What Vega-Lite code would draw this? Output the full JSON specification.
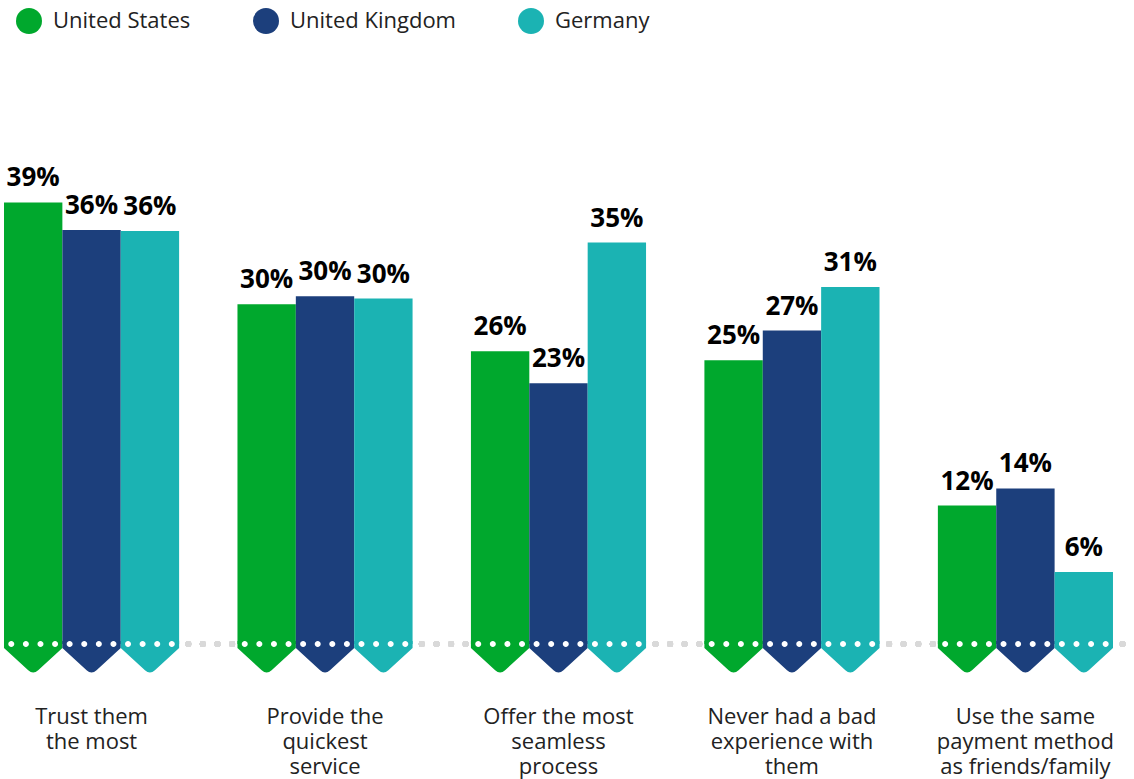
{
  "$schema": "https://vega.github.io/schema/vega-lite/v6.json",
  "width": 1134,
  "height": 644,
  "autosize": "none",
  "padding": {"left": 0, "top": 0, "right": 0, "bottom": 135},
  "background": "white",
  "config": {
    "view": {"stroke": null},
    "font": "Open Sans"
  },
  "data": {
    "values": [
      {"cat": "Trust them\nthe most", "country": "United States", "value": 0.386},
      {"cat": "Trust them\nthe most", "country": "United Kingdom", "value": 0.362},
      {"cat": "Trust them\nthe most", "country": "Germany", "value": 0.361},
      {"cat": "Provide the\nquickest\nservice", "country": "United States", "value": 0.297},
      {"cat": "Provide the\nquickest\nservice", "country": "United Kingdom", "value": 0.304},
      {"cat": "Provide the\nquickest\nservice", "country": "Germany", "value": 0.302},
      {"cat": "Offer the most\nseamless\nprocess", "country": "United States", "value": 0.256},
      {"cat": "Offer the most\nseamless\nprocess", "country": "United Kingdom", "value": 0.228},
      {"cat": "Offer the most\nseamless\nprocess", "country": "Germany", "value": 0.351},
      {"cat": "Never had a bad\nexperience with\nthem", "country": "United States", "value": 0.248},
      {"cat": "Never had a bad\nexperience with\nthem", "country": "United Kingdom", "value": 0.274},
      {"cat": "Never had a bad\nexperience with\nthem", "country": "Germany", "value": 0.312},
      {"cat": "Use the same\npayment method\nas friends/family", "country": "United States", "value": 0.121},
      {"cat": "Use the same\npayment method\nas friends/family", "country": "United Kingdom", "value": 0.136},
      {"cat": "Use the same\npayment method\nas friends/family", "country": "Germany", "value": 0.063}
    ]
  },
  "layer": [
    {
      "mark": {"type": "rule", "color": "#d9d9d9", "strokeWidth": 6, "strokeDash": [0.1, 14.5], "strokeDashOffset": 3.3, "strokeCap": "round"},
      "encoding": {
        "y": {"datum": 0, "type": "quantitative"}
      }
    },
    {
      "encoding": {
        "x": {
          "field": "cat", "type": "nominal", "title": null, "sort": null,
          "scale": {"paddingInner": 0.25, "paddingOuter": 0.0536, "align": 0.16},
          "axis": {
            "domain": false, "ticks": false, "labelAngle": 0,
            "labelExpr": "split(datum.value, '\\n')",
            "labelFont": "Open Sans", "labelFontSize": 22, "labelColor": "#222222",
            "labelLineHeight": 25, "labelPadding": 62, "labelLimit": 0, "labelBaseline": "top"
          }
        },
        "xOffset": {
          "field": "country", "type": "nominal", "sort": null,
          "scale": {"paddingInner": 0, "paddingOuter": 0}
        }
      },
      "layer": [
        {
          "mark": {"type": "bar"},
          "encoding": {
            "y": {
              "field": "value", "type": "quantitative",
              "scale": {"domain": [0, 0.563], "nice": false, "zero": false},
              "axis": null
            },
            "color": {
              "field": "country", "type": "nominal", "sort": null,
              "scale": {"range": ["#00a82d", "#1c3f7c", "#1bb3b3"]},
              "legend": {
                "title": null, "orient": "none", "legendX": 16, "legendY": 8, "direction": "horizontal",
                "symbolType": "circle", "symbolSize": 676, "symbolStrokeWidth": 0, "symbolOpacity": 1,
                "labelFont": "Open Sans", "labelFontSize": 22, "labelColor": "#222222",
                "labelOffset": 11, "columnPadding": 62, "labelLimit": 300, "padding": 0
              }
            }
          }
        },
        {
          "mark": {
            "type": "point", "filled": true, "opacity": 1, "strokeWidth": 0, "size": 3410,
            "shape": "M -1 -0.1 L 1 -0.1 L 1 0.14 L 0.17 0.9 Q 0 1.06 -0.17 0.9 L -1 0.14 Z"
          },
          "encoding": {
            "y": {"datum": 0, "type": "quantitative"},
            "color": {"field": "country", "type": "nominal", "sort": null}
          }
        },
        {
          "mark": {
            "type": "point", "filled": true, "opacity": 1, "strokeWidth": 0, "size": 3410, "color": "#ffffff",
            "shape": "M -0.853 0 A 0.103 0.103 0 1 0 -0.647 0 A 0.103 0.103 0 1 0 -0.853 0 Z M -0.353 0 A 0.103 0.103 0 1 0 -0.147 0 A 0.103 0.103 0 1 0 -0.353 0 Z M 0.147 0 A 0.103 0.103 0 1 0 0.353 0 A 0.103 0.103 0 1 0 0.147 0 Z M 0.647 0 A 0.103 0.103 0 1 0 0.853 0 A 0.103 0.103 0 1 0 0.647 0 Z"
          },
          "encoding": {
            "y": {"datum": 0, "type": "quantitative"}
          }
        },
        {
          "mark": {"type": "text", "font": "Open Sans", "fontWeight": "bold", "fontSize": 26, "color": "#000000", "align": "center", "baseline": "alphabetic", "dy": -16},
          "encoding": {
            "y": {"field": "value", "type": "quantitative"},
            "text": {"field": "value", "type": "quantitative", "format": ".0%"}
          }
        }
      ]
    }
  ]
}
